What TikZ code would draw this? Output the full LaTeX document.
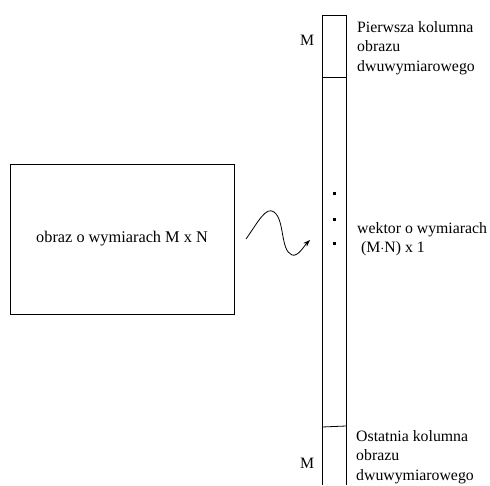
\documentclass[tikz,border=0pt]{standalone}
\usepackage{fontspec}
\setmainfont{Liberation Serif}
\usetikzlibrary{arrows.meta}
\begin{document}
\begin{tikzpicture}[x=1pt,y=-1pt,
  lbl/.style={font=\fontsize{15.8}{19.5}\selectfont, inner sep=0pt, align=left, anchor=west},
  edge/.style={line width=0.8pt, black},
  dotsq/.style={fill=black, minimum size=3pt, inner sep=0pt}]
\useasboundingbox (0,0) rectangle (490,485);
% image rectangle
\node[draw, line width=0.8pt, minimum width=224pt, minimum height=150pt, inner sep=0pt,
      font=\fontsize{16.3}{18}\selectfont] (img) at (122,239) {obraz o wymiarach M x N};
% column vector
\coordinate (ctl) at (322,15);
\coordinate (ctr) at (346,15);
\coordinate (cbl) at (322,485);
\coordinate (cbr) at (346,485);
\draw[edge] (cbl) -- (ctl) -- (ctr) -- (cbr);
\coordinate (d1l) at (322,77);
\coordinate (d1r) at (346,77);
\draw[edge] (d1l) -- (d1r);
\coordinate (d2l) at (322,427);
\coordinate (d2r) at (346,426);
\draw[edge] (d2l) -- (d2r);
% dots
\node[dotsq] (p1) at (334,193) {};
\node[dotsq] (p2) at (334,219) {};
\node[dotsq] (p3) at (334,243) {};
% curve arrow
\coordinate (cs) at (246,239);
\coordinate (ce) at (310,240);
\draw[edge, -{Stealth[length=7pt,width=5pt]}] (cs) .. controls (258,222) and (266,206) .. (274,212)
   .. controls (285,220) and (280,250) .. (292,255)
   .. controls (298,257) and (304,246) .. (ce);
% labels
\node[lbl] (mtop) at (300,40) {M};
\node[lbl] (tfirst) at (357,48) {Pierwsza kolumna\\obrazu\\dwuwymiarowego};
\node[lbl] (tvec) at (357,239) {wektor o wymiarach\\\ (M$\cdot$N) x 1};
\node[lbl] (mbot) at (300,463) {M};
\node[lbl] (tlast) at (356,457) {Ostatnia kolumna\\obrazu\\dwuwymiarowego};
\end{tikzpicture}
\end{document}
